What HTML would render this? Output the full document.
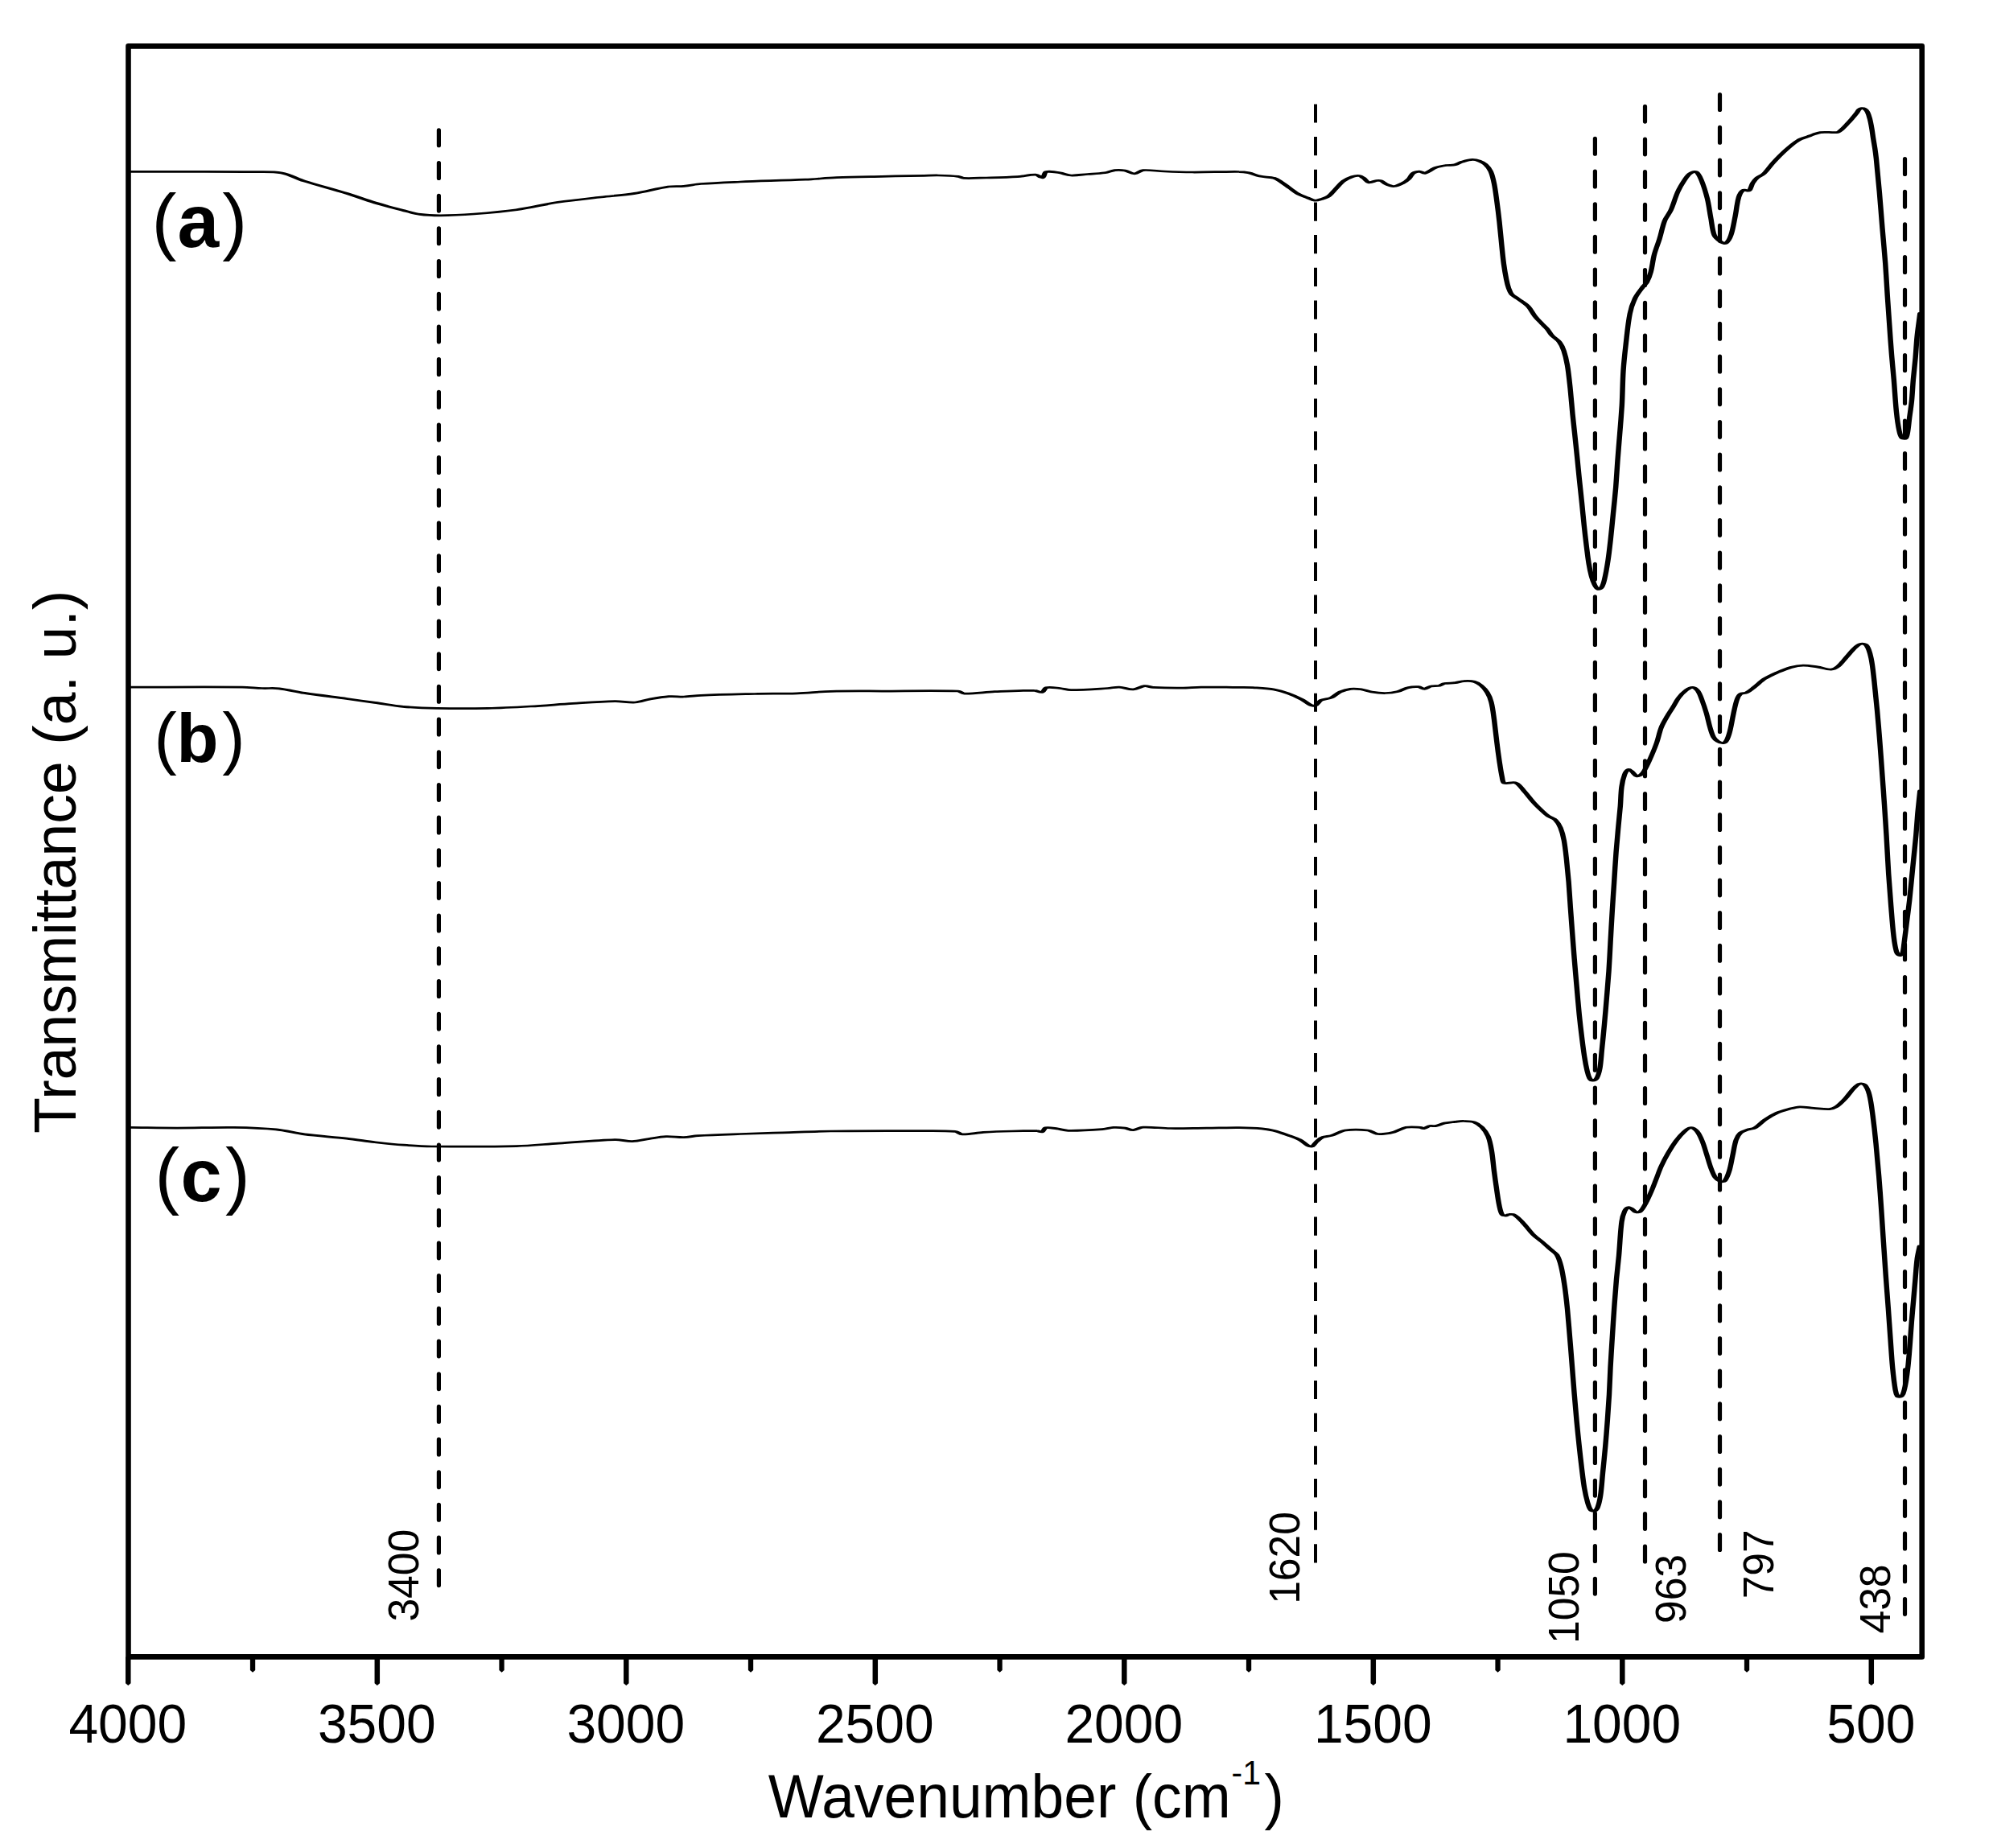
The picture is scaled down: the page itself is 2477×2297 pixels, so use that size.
<!DOCTYPE html>
<html lang="en"><head><meta charset="utf-8"><title>FTIR spectra</title>
<style>html,body{margin:0;padding:0;background:#fff;}body{width:2477px;height:2297px;overflow:hidden;}svg{display:block;}text{font-family:"Liberation Sans",sans-serif;fill:#000;}.b{font-weight:bold;}</style></head><body>
<svg width="2477" height="2297" viewBox="0 0 2477 2297">
<rect x="0" y="0" width="2477" height="2297" fill="#fff"/>
<g transform="scale(2.35 1)" fill="none" stroke="#000" stroke-width="2.75" stroke-linejoin="round" stroke-linecap="round">
<path d="M68.51 213.4C90.35 213.5 112.20 213.3 134.04 213.7C139.01 213.8 144.10 213.0 148.94 215.0C153.04 216.7 156.83 222.0 160.85 225.0C168.32 230.5 175.92 235.0 183.40 240.4C188.40 244.0 193.29 248.5 198.30 252.0C203.22 255.5 208.21 258.5 213.19 261.5C216.15 263.3 219.11 265.4 222.13 266.4C225.63 267.5 229.22 267.8 232.77 267.8C238.72 267.7 244.69 267.0 250.64 266.0C258.17 264.7 265.72 263.3 273.19 260.8C280.61 258.4 287.91 253.9 295.32 251.3C302.80 248.7 310.35 247.0 317.87 245.0C323.83 243.4 329.83 242.6 335.74 240.4C341.74 238.2 347.62 234.1 353.62 232.0C356.28 231.1 359.02 231.9 361.70 231.3C364.69 230.7 367.64 229.0 370.64 228.5C377.57 227.3 384.54 226.7 391.49 226.0C402.98 224.9 414.47 224.4 425.96 223.2C431.49 222.6 437.02 221.2 442.55 220.7C450.49 219.9 458.44 219.7 466.38 219.3C473.84 218.9 481.30 218.6 488.77 218.3C491.23 218.2 493.70 217.9 496.17 218.0C499.68 218.2 503.21 218.4 506.68 219.3C507.71 219.6 508.63 221.3 509.66 221.4C513.61 221.8 517.63 221.2 521.62 221.0C527.11 220.7 532.61 220.5 538.09 219.7C541.29 219.2 544.53 217.0 547.66 217.2C549.00 217.3 550.48 221.3 551.49 220.7C552.33 220.2 552.23 214.3 553.19 213.7C555.21 212.4 558.04 214.0 560.43 214.8C562.44 215.5 564.37 217.8 566.38 218.0C569.33 218.3 572.34 217.0 575.32 216.5C578.30 216.0 581.31 215.8 584.26 214.8C586.07 214.2 587.80 212.1 589.62 211.6C591.35 211.1 593.18 211.3 594.89 212.0C596.64 212.7 598.32 215.9 600.00 215.8C601.55 215.7 602.99 211.9 604.60 211.6C608.24 211.0 612.03 212.7 615.74 213.0C620.71 213.5 625.67 213.9 630.64 214.0C638.86 214.1 647.10 213.3 655.32 213.5C657.02 213.5 658.73 214.0 660.38 214.8C662.42 215.8 664.34 218.1 666.38 219.1C668.80 220.3 671.39 219.8 673.74 221.3C675.08 222.1 676.26 224.2 677.45 226.0C679.03 228.3 680.51 231.1 682.04 233.6C683.57 236.1 685.01 239.1 686.64 241.2C688.23 243.2 690.01 244.4 691.70 246.0C692.91 247.1 694.12 248.9 695.36 249.2C696.41 249.5 697.55 248.5 698.60 247.7C700.01 246.7 701.54 245.8 702.72 243.8C704.15 241.4 705.18 237.7 706.43 234.7C707.79 231.4 709.00 227.7 710.55 225.0C711.93 222.6 713.58 220.9 715.19 219.6C716.34 218.7 717.68 218.2 718.85 218.5C719.67 218.7 720.44 220.2 721.15 221.3C722.13 222.9 722.86 226.2 723.91 226.7C725.17 227.3 726.68 224.9 728.09 224.5C728.84 224.3 729.69 224.2 730.38 224.8C731.37 225.7 732.15 227.9 733.15 228.9C734.45 230.2 735.92 231.7 737.28 231.5C738.83 231.3 740.43 229.3 741.87 227.6C743.04 226.2 744.16 224.3 745.11 222.2C746.00 220.2 746.43 216.8 747.40 215.2C748.28 213.8 749.56 213.0 750.64 213.0C751.65 213.0 752.70 215.7 753.66 215.2C755.61 214.2 757.37 210.0 759.36 208.3C761.12 206.8 763.03 206.1 764.89 205.5C766.41 205.0 768.01 205.6 769.49 204.8C770.78 204.1 771.92 202.1 773.19 201.2C774.99 200.0 776.88 198.6 778.72 198.4C779.94 198.3 781.23 199.1 782.38 200.1C783.53 201.1 784.73 202.5 785.62 204.4C786.73 206.8 787.76 209.9 788.38 213.1C789.29 217.8 789.76 223.1 790.21 228.2C790.84 235.4 791.20 242.7 791.62 249.9C792.12 258.5 792.57 267.2 792.98 275.8C793.42 285.2 793.76 294.6 794.17 304.0C794.52 311.9 794.82 319.9 795.28 327.8C795.66 334.3 796.13 340.8 796.68 347.3C796.99 350.9 797.35 354.6 797.87 358.1C798.27 360.7 798.69 363.6 799.45 365.7C800.28 368.0 801.58 369.3 802.64 371.1C804.49 374.3 806.58 377.0 808.17 380.8C809.66 384.4 810.54 389.3 811.87 393.2C812.99 396.5 814.29 399.4 815.53 402.5C816.43 404.7 817.46 406.7 818.30 409.0C819.14 411.3 819.70 414.3 820.60 416.5C821.86 419.7 823.64 421.8 824.77 425.2C825.80 428.3 826.52 432.2 827.06 436.0C827.91 441.8 828.49 448.0 828.94 454.1C829.61 463.4 830.00 472.9 830.43 482.3C830.92 493.1 831.25 503.9 831.70 514.7C832.07 523.4 832.50 532.0 832.89 540.7C833.31 550.1 833.72 559.4 834.13 568.8C834.50 577.5 834.85 586.1 835.23 594.8C835.68 604.9 836.15 615.0 836.60 625.1C837.01 634.5 837.36 643.8 837.79 653.2C838.18 661.9 838.61 670.5 839.06 679.2C839.45 686.4 839.79 693.7 840.30 700.9C840.66 706.0 841.08 711.0 841.66 716.0C842.09 719.7 842.60 723.4 843.32 726.8C843.76 728.9 844.43 731.7 845.15 732.3C845.66 732.8 846.66 731.4 847.02 730.1C847.79 727.4 848.21 723.7 848.55 720.3C849.35 712.5 849.91 704.5 850.43 696.5C850.98 687.9 851.38 679.2 851.79 670.6C852.30 659.8 852.73 648.9 853.19 638.1C853.65 627.3 854.17 616.4 854.55 605.6C854.94 594.8 855.15 584.0 855.49 573.2C855.83 562.4 856.24 551.5 856.60 540.7C857.00 528.4 857.49 516.2 857.79 503.9C858.13 489.6 858.12 475.3 858.51 461.0C858.81 450.0 859.33 439.0 859.87 428.0C860.50 415.3 860.94 402.5 862.00 390.0C862.57 383.3 863.51 376.7 864.77 370.6C865.81 365.5 867.45 361.1 868.89 356.5C869.51 354.5 870.46 353.1 870.94 351.0C871.85 347.0 872.55 342.5 873.06 338.1C873.87 331.0 874.10 323.6 874.89 316.5C875.63 309.9 876.80 303.5 877.66 297.0C878.65 289.4 879.20 281.5 880.43 274.2C881.20 269.6 882.79 265.8 883.66 261.3C885.08 253.9 885.89 245.9 887.32 238.5C888.34 233.2 889.65 228.2 891.02 223.4C891.81 220.6 892.67 217.6 893.79 215.8C894.66 214.4 896.19 212.6 896.98 213.6C898.17 215.1 899.10 219.8 899.74 223.4C901.10 231.0 902.12 239.1 902.98 247.2C903.81 255.0 904.16 263.1 904.81 271.0C905.40 278.2 905.54 286.0 906.68 292.6C907.23 295.8 908.66 298.2 909.87 300.2C910.65 301.5 911.96 303.3 912.64 302.4C913.80 300.8 914.86 296.2 915.40 292.6C916.54 285.0 917.00 276.8 917.70 268.8C918.39 260.9 918.60 252.6 919.57 245.0C919.99 241.8 920.82 238.0 921.87 236.4C922.65 235.2 924.34 238.0 925.06 236.8C926.03 235.1 926.18 230.5 926.94 227.7C927.57 225.3 928.33 223.0 929.23 221.2C930.32 219.0 931.86 218.1 932.89 215.8C934.77 211.6 936.18 206.2 937.96 201.7C940.02 196.5 942.16 191.3 944.43 186.6C946.46 182.3 948.54 178.0 950.85 174.7C952.61 172.2 954.71 171.1 956.64 169.3C957.49 168.5 958.33 167.7 959.19 167.0C960.37 166.1 961.55 165.0 962.77 164.6C964.23 164.1 965.74 164.4 967.23 164.4C968.74 164.4 970.31 165.1 971.74 164.5C972.41 164.2 973.00 163.0 973.53 161.9C974.72 159.5 975.80 156.8 976.89 154.1C977.77 152.0 978.62 149.7 979.45 147.5C980.32 145.1 981.17 142.7 982.00 140.2C982.45 138.8 982.76 137.1 983.28 136.0C983.61 135.3 984.11 134.8 984.55 134.7C985.05 134.6 985.67 134.7 986.09 135.3C986.70 136.2 987.31 137.6 987.66 139.2C988.26 141.9 988.60 145.1 988.94 148.1C989.37 152.0 989.66 156.1 989.96 160.1C990.26 164.1 990.45 168.2 990.72 172.2C990.99 176.2 991.32 180.2 991.57 184.2C991.85 188.6 992.10 193.0 992.30 197.4C992.90 211.1 993.45 224.8 993.96 238.5C994.52 253.7 994.99 268.8 995.53 284.0C996.04 298.4 996.65 312.9 997.11 327.3C997.54 340.9 997.83 354.4 998.21 368.0C998.55 380.0 998.91 392.0 999.28 404.0C999.65 416.3 1000.00 428.7 1000.43 441.0C1000.78 451.3 1001.25 461.7 1001.62 472.0C1002.10 485.5 1002.38 499.0 1002.98 512.4C1003.32 520.1 1003.75 527.9 1004.43 535.4C1004.70 538.5 1005.07 542.1 1005.83 544.2C1006.22 545.3 1007.47 545.7 1007.87 544.9C1008.47 543.7 1008.67 540.4 1008.85 538.1C1009.34 531.8 1009.52 525.4 1009.87 519.1C1010.25 512.3 1010.73 505.6 1011.02 498.8C1011.40 489.8 1011.54 480.8 1011.87 471.8C1012.21 462.8 1012.68 453.7 1013.02 444.7C1013.36 435.7 1013.52 426.7 1013.91 417.7C1014.33 408.3 1014.94 398.9 1015.45 389.5"/>
<path d="M68.51 854.1C88.37 854.1 108.23 853.7 128.09 854.1C131.58 854.2 135.06 855.2 138.55 855.5C141.54 855.8 144.57 855.0 147.53 855.8C152.04 857.0 156.48 859.8 160.98 861.4C168.44 864.0 175.93 866.1 183.40 868.5C188.37 870.1 193.33 871.8 198.30 873.4C203.26 875.0 208.20 877.2 213.19 878.3C219.18 879.6 225.22 880.1 231.23 880.4C240.19 880.8 249.17 880.8 258.13 880.4C265.61 880.0 273.08 879.0 280.55 878.0C288.03 877.0 295.50 875.5 302.98 874.4C310.45 873.3 317.93 871.9 325.40 871.6C328.89 871.5 332.41 873.5 335.87 873.0C338.39 872.7 340.82 870.2 343.32 869.2C346.79 867.8 350.28 866.3 353.79 865.7C356.41 865.2 359.07 866.2 361.70 866.0C364.69 865.8 367.65 864.6 370.64 864.3C380.11 863.4 389.59 863.0 399.06 862.5C406.54 862.1 414.02 862.4 421.49 861.8C427.47 861.3 433.43 859.7 439.40 859.3C448.38 858.7 457.36 859.0 466.34 859.0C479.79 858.9 493.31 858.0 506.68 859.0C507.85 859.1 508.80 862.1 509.96 862.1C515.28 862.3 520.73 860.3 526.13 859.7C533.09 859.0 540.08 858.1 547.02 858.3C548.45 858.3 550.02 861.1 551.23 860.4C552.12 859.9 552.37 855.3 553.32 854.8C555.47 853.7 558.12 855.0 560.51 855.5C562.51 855.9 564.47 857.6 566.47 857.6C572.94 857.6 579.44 856.4 585.91 855.5C587.91 855.2 589.89 853.9 591.87 854.1C594.38 854.4 596.90 857.2 599.36 856.9C601.38 856.7 603.31 853.2 605.32 852.7C606.80 852.3 608.31 854.2 609.83 854.4C614.79 855.0 619.79 855.2 624.77 855.1C628.26 855.1 631.74 854.2 635.23 854.1C641.93 853.9 648.62 854.2 655.32 854.4C658.09 854.5 660.86 854.4 663.62 854.8C667.00 855.3 670.41 855.7 673.74 857.0C676.24 858.0 678.72 859.7 681.11 861.7C683.62 863.8 686.09 866.4 688.47 869.3C690.08 871.3 691.44 874.5 693.06 876.2C693.84 877.0 694.93 877.7 695.66 876.9C696.78 875.7 697.43 871.8 698.60 870.4C700.25 868.5 702.41 868.9 704.13 867.1C705.78 865.4 707.07 861.8 708.72 860.0C710.45 858.2 712.38 856.8 714.26 856.3C716.06 855.8 717.97 856.2 719.79 856.8C721.66 857.4 723.45 859.3 725.32 860.0C727.75 860.9 730.23 861.6 732.68 861.5C734.83 861.4 737.02 860.8 739.11 859.6C741.01 858.5 742.74 855.8 744.64 854.8C746.43 853.8 748.36 853.4 750.17 853.7C751.28 853.9 752.34 856.4 753.40 856.3C754.48 856.2 755.48 853.7 756.60 853.1C758.09 852.3 759.73 852.9 761.23 852.2C762.20 851.7 763.03 850.0 764.00 849.6C765.79 848.8 767.67 849.2 769.49 848.7C771.05 848.2 772.57 846.8 774.13 846.6C775.94 846.3 777.89 846.2 779.62 847.2C780.95 848.0 782.25 849.9 783.32 852.0C784.56 854.4 785.72 857.4 786.55 860.6C787.50 864.2 788.23 868.4 788.68 872.6C789.45 879.6 789.79 887.0 790.21 894.2C790.76 903.5 791.12 912.9 791.62 922.3C792.04 930.2 792.47 938.2 792.98 946.1C793.40 952.6 793.79 959.2 794.38 965.6C794.62 968.2 794.62 972.3 795.49 973.2C797.08 974.8 799.97 971.4 801.74 973.2C803.59 975.0 804.89 980.2 806.34 984.0C807.95 988.2 809.33 992.8 810.94 997.0C812.39 1000.8 813.95 1004.3 815.53 1007.8C816.56 1010.1 817.60 1012.4 818.77 1014.3C819.97 1016.2 821.61 1016.9 822.64 1019.2C823.80 1021.8 824.69 1025.5 825.32 1029.0C826.19 1033.9 826.73 1039.2 827.15 1044.5C827.79 1052.6 828.12 1060.8 828.51 1069.0C828.94 1078.0 829.30 1087.0 829.62 1096.0C829.98 1106.5 830.23 1117.0 830.55 1127.5C830.88 1138.3 831.23 1149.0 831.57 1159.8C831.92 1170.6 832.26 1181.3 832.64 1192.1C833.02 1202.9 833.42 1213.8 833.83 1224.6C834.29 1236.9 834.71 1249.1 835.23 1261.4C835.63 1270.8 836.10 1280.1 836.60 1289.5C837.01 1297.4 837.43 1305.4 837.96 1313.3C838.35 1319.1 838.78 1324.9 839.36 1330.6C839.70 1333.9 840.04 1337.5 840.72 1340.4C841.04 1341.7 841.81 1343.2 842.38 1343.2C843.05 1343.2 844.05 1341.9 844.43 1340.4C845.28 1337.0 845.77 1332.6 846.09 1328.5C846.69 1320.7 846.84 1312.6 847.19 1304.7C847.67 1293.9 848.13 1283.0 848.55 1272.2C848.98 1261.4 849.36 1250.5 849.74 1239.7C850.13 1228.9 850.54 1218.1 850.85 1207.3C851.19 1195.5 851.42 1183.8 851.70 1172.0C852.00 1159.7 852.27 1147.3 852.60 1135.0C852.93 1122.3 853.30 1109.7 853.66 1097.0C854.01 1084.3 854.31 1071.7 854.72 1059.0C855.08 1048.0 855.53 1037.0 855.96 1026.0C856.27 1018.0 856.65 1010.0 856.94 1002.0C857.22 993.9 857.19 985.8 857.66 977.8C857.96 972.7 858.46 967.4 859.23 962.6C859.60 960.3 860.32 957.4 861.06 956.6C861.55 956.1 862.39 957.7 862.94 958.7C863.94 960.5 864.68 964.3 865.70 964.8C866.53 965.2 867.77 963.2 868.47 961.6C869.46 959.3 870.10 955.9 870.77 952.9C871.78 948.3 872.67 943.6 873.53 938.8C874.50 933.5 875.45 928.1 876.26 922.6C877.14 916.6 877.59 910.1 878.60 904.2C879.43 899.3 880.65 894.7 881.79 890.1C882.79 886.0 883.96 882.2 885.02 878.2C885.96 874.6 886.69 870.7 887.79 867.4C888.98 863.8 890.39 860.4 891.91 857.7C892.84 856.1 894.12 854.2 895.15 854.4C896.12 854.6 897.28 856.7 897.91 858.7C898.97 862.1 899.55 866.5 900.21 870.6C901.08 875.9 901.83 881.4 902.51 886.9C903.22 892.6 903.66 898.5 904.38 904.2C904.89 908.2 905.35 912.5 906.21 916.1C906.73 918.3 907.62 920.2 908.51 921.5C909.31 922.7 910.42 923.9 911.28 923.7C911.95 923.5 912.74 921.9 913.11 920.4C913.96 916.9 914.49 912.6 914.94 908.5C915.72 901.4 916.13 894.1 916.81 886.9C917.36 881.1 917.80 875.1 918.64 869.6C919.02 867.0 919.60 864.1 920.47 862.6C921.29 861.2 922.73 862.0 923.70 860.9C925.19 859.2 926.49 856.4 927.83 854.0C929.71 850.6 931.38 846.6 933.36 843.6C935.38 840.6 937.62 838.3 939.83 836.0C942.23 833.6 944.68 831.1 947.19 829.5C949.27 828.2 951.47 827.2 953.62 827.1C956.06 827.0 958.54 828.1 960.98 828.9C963.46 829.7 965.97 832.2 968.38 832.1C969.66 832.0 971.03 830.3 972.04 828.4C973.78 825.1 975.10 820.5 976.64 816.5C978.18 812.5 979.58 808.1 981.28 804.6C982.19 802.7 983.36 800.7 984.47 800.3C985.35 800.0 986.73 800.8 987.23 802.5C988.42 806.5 989.06 812.4 989.53 817.6C990.38 826.8 990.72 836.4 991.19 845.8C991.80 858.0 992.28 870.3 992.77 882.6C993.28 895.6 993.73 908.5 994.17 921.5C994.66 935.9 995.09 950.4 995.53 964.8C995.89 976.5 996.26 988.3 996.60 1000.0C996.98 1013.3 997.36 1026.7 997.70 1040.0C998.10 1055.3 998.38 1070.7 998.81 1086.0C999.18 1099.3 999.62 1112.6 1000.09 1125.9C1000.53 1138.5 1000.89 1151.2 1001.53 1163.8C1001.86 1170.2 1002.19 1176.7 1002.98 1182.7C1003.24 1184.6 1004.04 1186.9 1004.68 1187.5C1005.09 1187.9 1005.94 1186.6 1006.13 1185.5C1006.71 1181.9 1006.74 1177.4 1006.98 1173.3C1007.51 1164.3 1007.94 1155.2 1008.43 1146.2C1008.91 1137.2 1009.44 1128.1 1009.87 1119.1C1010.30 1110.1 1010.64 1101.1 1011.02 1092.1C1011.40 1083.1 1011.79 1074.0 1012.17 1065.0C1012.55 1056.0 1012.98 1047.0 1013.32 1038.0C1013.66 1029.0 1013.86 1019.9 1014.21 1010.9C1014.57 1001.6 1015.04 992.3 1015.45 983.0"/>
<path d="M68.51 1401.4C76.91 1401.6 85.30 1402.1 93.70 1402.1C103.67 1402.1 113.65 1401.1 123.62 1401.4C131.10 1401.7 138.61 1402.2 146.04 1403.9C151.06 1405.0 155.97 1408.4 160.98 1409.9C168.43 1412.1 175.94 1413.1 183.40 1415.1C188.39 1416.4 193.35 1418.3 198.34 1419.7C203.31 1421.0 208.29 1422.3 213.28 1423.2C218.26 1424.1 223.26 1424.9 228.26 1425.0C243.19 1425.3 258.14 1425.5 273.06 1424.6C280.55 1424.2 288.01 1422.2 295.49 1421.1C305.46 1419.6 315.44 1417.2 325.40 1416.6C328.40 1416.4 331.40 1418.9 334.38 1418.7C337.37 1418.5 340.34 1416.5 343.32 1415.5C346.31 1414.5 349.29 1413.0 352.30 1412.7C355.42 1412.4 358.58 1413.9 361.70 1413.7C364.21 1413.5 366.68 1412.0 369.19 1411.6C376.64 1410.6 384.11 1410.1 391.57 1409.5C399.05 1408.9 406.52 1408.3 414.00 1407.8C422.47 1407.2 430.93 1406.2 439.40 1406.0C454.85 1405.5 470.30 1405.6 485.74 1405.7C492.23 1405.7 498.79 1405.2 505.19 1406.4C506.52 1406.6 507.62 1409.8 508.94 1409.9C512.60 1410.1 516.39 1408.0 520.13 1407.4C525.10 1406.7 530.08 1406.3 535.06 1406.0C539.54 1405.7 544.04 1405.5 548.51 1405.7C549.43 1405.7 550.48 1407.4 551.23 1406.7C551.98 1406.1 552.21 1402.2 553.02 1401.8C554.79 1400.9 557.00 1402.3 558.98 1402.9C560.99 1403.5 562.96 1405.2 564.98 1405.3C570.93 1405.5 576.94 1404.6 582.89 1403.6C584.91 1403.3 586.88 1401.7 588.89 1401.4C590.88 1401.2 592.92 1401.5 594.89 1402.1C596.41 1402.6 597.88 1404.8 599.36 1404.6C601.12 1404.4 602.80 1401.3 604.60 1401.1C609.28 1400.6 614.07 1402.4 618.81 1402.5C625.27 1402.7 631.74 1402.2 638.21 1402.1C643.91 1402.0 649.62 1401.6 655.32 1401.7C659.31 1401.8 663.31 1402.0 667.28 1402.8C669.45 1403.2 671.63 1404.1 673.74 1405.4C676.24 1406.9 678.68 1409.0 681.11 1411.0C683.27 1412.8 685.50 1414.4 687.53 1416.9C689.03 1418.7 690.23 1422.0 691.70 1423.8C692.38 1424.6 693.38 1425.6 694.00 1424.9C694.91 1424.0 695.45 1420.7 696.30 1419.0C697.29 1417.0 698.33 1414.7 699.53 1413.6C700.94 1412.2 702.64 1412.6 704.13 1411.5C706.63 1409.7 708.93 1405.9 711.49 1405.0C715.37 1403.7 719.54 1404.0 723.45 1405.0C725.07 1405.4 726.49 1408.5 728.09 1409.3C729.26 1409.9 730.54 1409.6 731.74 1409.3C733.60 1408.9 735.49 1408.3 737.28 1407.1C739.47 1405.6 741.48 1402.2 743.70 1401.3C746.09 1400.3 748.66 1401.0 751.11 1401.3C751.74 1401.4 752.34 1402.8 752.94 1402.6C754.03 1402.2 755.05 1400.1 756.17 1399.6C757.20 1399.1 758.33 1400.1 759.36 1399.6C760.94 1398.9 762.42 1396.9 764.00 1396.1C765.80 1395.2 767.66 1394.9 769.49 1394.4C771.03 1394.0 772.58 1393.4 774.13 1393.5C775.96 1393.6 777.93 1393.4 779.62 1394.8C781.15 1396.0 782.64 1398.6 783.79 1401.3C785.11 1404.5 786.29 1408.5 787.02 1412.6C787.98 1418.0 788.42 1424.1 788.85 1429.9C789.48 1438.5 789.73 1447.2 790.21 1455.8C790.66 1463.8 791.11 1471.7 791.62 1479.7C792.03 1486.2 792.39 1492.7 792.98 1499.1C793.31 1502.6 793.62 1506.7 794.38 1509.5C794.70 1510.7 795.60 1511.0 796.21 1511.0C796.82 1511.0 797.41 1509.6 798.04 1509.5C798.94 1509.3 800.05 1508.9 800.81 1510.0C802.50 1512.3 803.98 1516.2 805.40 1519.7C807.36 1524.5 808.95 1530.1 810.94 1534.8C812.32 1538.1 814.03 1540.5 815.53 1543.5C817.11 1546.6 818.62 1550.0 820.17 1553.2C821.23 1555.4 822.65 1557.0 823.36 1559.7C824.46 1563.9 825.09 1569.1 825.62 1574.0C826.45 1581.8 826.95 1589.8 827.45 1597.7C828.06 1607.4 828.51 1617.2 828.94 1627.0C829.37 1637.0 829.69 1647.0 830.04 1657.0C830.42 1667.7 830.79 1678.3 831.15 1689.0C831.65 1703.7 832.12 1718.5 832.64 1733.2C833.02 1744.0 833.40 1754.8 833.83 1765.6C834.26 1776.4 834.74 1787.3 835.23 1798.1C835.66 1807.5 836.10 1816.8 836.60 1826.2C837.01 1834.1 837.38 1842.1 837.96 1850.0C838.39 1855.9 838.92 1861.7 839.62 1867.4C840.00 1870.5 840.42 1874.1 841.19 1876.5C841.56 1877.7 842.52 1878.6 843.06 1878.2C843.76 1877.7 844.58 1875.7 844.89 1873.9C845.71 1869.2 846.14 1863.8 846.47 1858.7C847.06 1849.4 847.26 1840.0 847.66 1830.6C848.12 1819.8 848.61 1808.9 849.02 1798.1C849.43 1787.3 849.79 1776.4 850.13 1765.6C850.47 1754.8 850.80 1744.0 851.06 1733.2C851.33 1722.3 851.45 1711.3 851.70 1700.4C851.99 1687.8 852.34 1675.1 852.68 1662.5C853.02 1649.9 853.36 1637.4 853.74 1624.8C854.10 1613.2 854.45 1601.6 854.89 1590.0C855.26 1580.3 855.80 1570.7 856.17 1561.0C856.72 1546.9 856.88 1532.6 857.66 1518.6C857.91 1514.1 858.46 1509.6 859.23 1505.6C859.60 1503.7 860.35 1501.5 861.06 1500.9C861.58 1500.4 862.38 1501.6 862.94 1502.4C863.77 1503.6 864.38 1506.1 865.23 1506.7C865.91 1507.2 866.99 1506.8 867.53 1505.6C868.68 1503.2 869.51 1499.3 870.30 1495.9C871.51 1490.7 872.53 1485.2 873.53 1479.7C874.51 1474.3 875.35 1468.8 876.26 1463.4C877.04 1458.7 877.70 1453.9 878.60 1449.4C879.70 1443.8 880.94 1438.4 882.26 1433.1C883.54 1427.9 884.90 1422.8 886.43 1418.0C887.66 1414.1 889.02 1410.3 890.55 1407.1C891.62 1404.9 892.98 1401.9 894.21 1401.7C895.28 1401.5 896.66 1404.0 897.45 1406.1C898.66 1409.4 899.47 1413.9 900.21 1418.0C901.15 1423.2 901.77 1428.8 902.51 1434.2C903.30 1439.9 903.92 1445.8 904.81 1451.5C905.45 1455.6 906.07 1459.9 907.11 1463.4C907.76 1465.6 908.86 1467.5 909.87 1468.4C910.55 1469.0 911.72 1468.9 912.17 1467.7C913.26 1464.7 913.96 1459.9 914.51 1455.8C915.35 1449.5 915.73 1442.9 916.34 1436.4C916.95 1429.9 917.26 1423.1 918.17 1416.9C918.64 1413.7 919.43 1410.4 920.47 1408.2C921.43 1406.2 922.90 1405.4 924.17 1404.3C925.51 1403.2 927.09 1403.3 928.30 1401.7C930.15 1399.2 931.57 1394.9 933.36 1392.0C935.41 1388.7 937.58 1385.7 939.83 1383.3C941.87 1381.1 944.08 1379.8 946.26 1378.4C948.07 1377.3 949.93 1376.0 951.79 1375.8C954.22 1375.6 956.69 1376.9 959.15 1377.3C961.91 1377.8 964.72 1378.9 967.45 1378.6C968.71 1378.4 970.05 1377.4 971.11 1375.8C972.82 1373.2 974.32 1369.5 975.74 1366.0C977.39 1361.9 978.67 1357.0 980.34 1353.0C981.28 1350.7 982.40 1348.0 983.57 1347.2C984.40 1346.6 985.77 1347.2 986.34 1348.7C987.46 1351.7 988.18 1356.4 988.64 1360.6C989.56 1369.0 989.97 1377.9 990.47 1386.6C991.13 1398.1 991.63 1409.7 992.13 1421.2C992.71 1434.9 993.22 1448.6 993.70 1462.3C994.17 1475.9 994.58 1489.4 994.98 1503.0C995.38 1516.7 995.74 1530.3 996.13 1544.0C996.53 1558.0 996.93 1572.0 997.36 1586.0C997.77 1599.3 998.22 1612.7 998.64 1626.0C999.03 1638.7 999.40 1651.3 999.79 1664.0C1000.16 1676.1 1000.44 1688.2 1000.94 1700.3C1001.31 1709.3 1001.73 1718.4 1002.38 1727.3C1002.59 1730.1 1002.91 1733.4 1003.53 1735.5C1003.78 1736.3 1004.58 1736.5 1004.98 1736.1C1005.54 1735.6 1006.18 1734.1 1006.43 1732.7C1007.14 1728.5 1007.53 1723.8 1007.87 1719.2C1008.45 1711.6 1008.84 1703.9 1009.19 1696.2C1009.60 1687.2 1009.86 1678.1 1010.17 1669.1C1010.47 1660.1 1010.71 1651.1 1011.02 1642.1C1011.33 1633.1 1011.71 1624.0 1012.04 1615.0C1012.38 1606.0 1012.68 1597.0 1013.02 1588.0C1013.31 1580.3 1013.48 1572.6 1013.91 1565.0C1014.22 1559.6 1014.79 1554.3 1015.23 1549.0"/>
</g>
<g fill="none" stroke="#000" stroke-width="5.2" stroke-linecap="round" stroke-dasharray="18.80 21.88">
<path d="M545.4 161.9V1970.7"/>
<path d="M1982.4 172.4V1981.2"/>
<path d="M2044.5 132.3V1941.1"/>
<path d="M2137.5 117.7V1926.5"/>
<path d="M2367.5 197.6V2006.4"/>
</g>
<path d="M1635.0 129.4V1943.4" fill="none" stroke="#000" stroke-width="4.0" stroke-linecap="butt" stroke-dasharray="23.20 17.48"/>
<rect x="159.5" y="57.4" width="2229.2" height="2002.0" fill="none" stroke="#000" stroke-width="6.6" stroke-linejoin="round"/>
<path d="M156.05 2059.4V2092.2L159.30 2095.0L162.55 2092.2V2059.4ZM465.55 2059.4V2092.2L468.80 2095.0L472.05 2092.2V2059.4ZM775.05 2059.4V2092.2L778.30 2095.0L781.55 2092.2V2059.4ZM1084.55 2059.4V2092.2L1087.80 2095.0L1091.05 2092.2V2059.4ZM1394.05 2059.4V2092.2L1397.30 2095.0L1400.55 2092.2V2059.4ZM1703.55 2059.4V2092.2L1706.80 2095.0L1710.05 2092.2V2059.4ZM2013.05 2059.4V2092.2L2016.30 2095.0L2019.55 2092.2V2059.4ZM2322.55 2059.4V2092.2L2325.80 2095.0L2329.05 2092.2V2059.4ZM310.90 2059.4V2076.0L314.05 2078.8L317.20 2076.0V2059.4ZM620.40 2059.4V2076.0L623.55 2078.8L626.70 2076.0V2059.4ZM929.90 2059.4V2076.0L933.05 2078.8L936.20 2076.0V2059.4ZM1239.40 2059.4V2076.0L1242.55 2078.8L1245.70 2076.0V2059.4ZM1548.90 2059.4V2076.0L1552.05 2078.8L1555.20 2076.0V2059.4ZM1858.40 2059.4V2076.0L1861.55 2078.8L1864.70 2076.0V2059.4ZM2167.90 2059.4V2076.0L2171.05 2078.8L2174.20 2076.0V2059.4Z" fill="#000" stroke="none"/>
<text transform="translate(158.8 2165.6) scale(1 1.052)" font-size="66" text-anchor="middle">4000</text>
<text transform="translate(468.3 2165.6) scale(1 1.052)" font-size="66" text-anchor="middle">3500</text>
<text transform="translate(777.8 2165.6) scale(1 1.052)" font-size="66" text-anchor="middle">3000</text>
<text transform="translate(1087.3 2165.6) scale(1 1.052)" font-size="66" text-anchor="middle">2500</text>
<text transform="translate(1396.8 2165.6) scale(1 1.052)" font-size="66" text-anchor="middle">2000</text>
<text transform="translate(1706.3 2165.6) scale(1 1.052)" font-size="66" text-anchor="middle">1500</text>
<text transform="translate(2015.8 2165.6) scale(1 1.052)" font-size="66" text-anchor="middle">1000</text>
<text transform="translate(2325.3 2165.6) scale(1 1.052)" font-size="66" text-anchor="middle">500</text>
<text transform="translate(954.8 2258.9) scale(1 1.027)" font-size="73.2">Wavenumber (cm<tspan font-size="41" dy="-39.5" dx="1">-1</tspan><tspan dy="39.5" dx="4.4">)</tspan></text>
<text transform="translate(94 1409) rotate(-90)" font-size="73.5">Transmittance (a. u.)</text>
<text font-size="93"><tspan x="188.5" y="305.5">(</tspan><tspan class="b" x="220.5" y="306.5">a</tspan><tspan x="276.2" y="305.5">)</tspan></text>
<text font-size="85"><tspan x="191.5" y="945.5">(</tspan><tspan class="b" x="219.4" y="946.5">b</tspan><tspan x="276.2" y="945.5">)</tspan></text>
<text font-size="92"><tspan x="192.5" y="1491.9">(</tspan><tspan class="b" x="224.6" y="1492.5">c</tspan><tspan x="280.0" y="1491.9">)</tspan></text>
<text transform="translate(520.0 2015.6) rotate(-90) scale(0.982 1.01)" font-size="52.5">3400</text>
<text transform="translate(1614.7 1993.8) rotate(-90) scale(0.982 1.01)" font-size="52.5">1620</text>
<text transform="translate(1962.0 2042.9) rotate(-90) scale(0.982 1.01)" font-size="52.5">1050</text>
<text transform="translate(2095.4 2018.0) rotate(-90) scale(0.982 1.01)" font-size="52.5">963</text>
<text transform="translate(2203.5 1987.3) rotate(-90) scale(0.982 1.01)" font-size="52.5">797</text>
<text transform="translate(2349.1 2030.5) rotate(-90) scale(0.982 1.01)" font-size="52.5">438</text>
</svg></body></html>
